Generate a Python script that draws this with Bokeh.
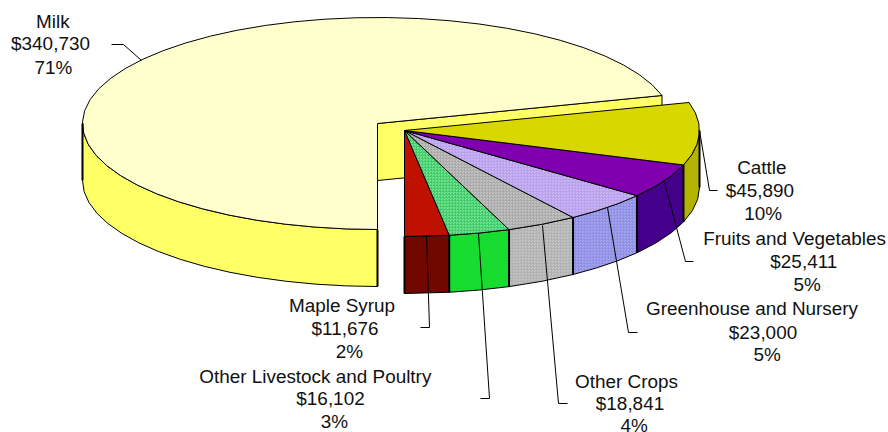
import math
from bokeh.plotting import figure
from bokeh.models import Range1d
from bokeh.embed import file_html
from bokeh.resources import INLINE
from bokeh.core.properties import value

categories = ["Milk", "Cattle", "Fruits and Vegetables", "Greenhouse and Nursery",
              "Other Crops", "Other Livestock and Poultry", "Maple Syrup"]
amounts = [340730, 45890, 25411, 23000, 18841, 16102, 11676]
amount_labels = ["$340,730", "$45,890", "$25,411", "$23,000", "$18,841", "$16,102", "$11,676"]
percent_labels = ["71%", "10%", "5%", "5%", "4%", "3%", "2%"]
top_colors = ["#FFFFCC", "#D8D800", "#8000B0", "#CDB9F8", "#C8C8C8", "#7CE89C", "#C01000"]
side_colors = ["#FFFF66", "#B4B400", "#44008A", "#A8A8F2", "#C8C8C8", "#18DC30", "#700800"]
hatch_colors = [None, None, None, "#B49CE8", "#A4A4A4", "#38C460", None]
hatch_side = [None, None, None, "#8C8CE0", "#ACACAC", None, None]

W, H = 888, 432
CX, CY, RX, RY, DEPTH = 377.0, 123.0, 295.0, 106.0, 57.0
DX, DY = 27.0, 7.0   # explosion of the other slices

p = figure(width=W, height=H, output_backend="svg", toolbar_location=None,
           x_range=Range1d(0, W), y_range=Range1d(H, 0), min_border=0)
p.axis.visible = False
p.grid.visible = False
p.outline_line_color = None
p.background_fill_color = "white"


def rim(cx, cy, a0, a1, step=6.0):
    n = max(1, int(abs(a1 - a0) / step + 0.5))
    out = []
    for i in range(n + 1):
        a = math.radians(a0 + (a1 - a0) * i / n)
        out.append((cx + RX * math.cos(a), cy - RY * math.sin(a)))
    return out


def poly(pts, fill, hatch=None, lw=1.0):
    kw = {}
    if hatch:
        kw = dict(hatch_pattern="criss_cross", hatch_color=hatch, hatch_scale=3.0, hatch_weight=0.6)
    p.patch([q[0] for q in pts], [q[1] for q in pts], fill_color=fill,
            line_color="black", line_width=lw, line_join="round", **kw)


def side(cx, cy, a0, a1, fill, hatch=None):
    top = rim(cx, cy, a0, a1)
    poly(top + [(x, y + DEPTH) for x, y in reversed(top)], fill, hatch)


total = sum(amounts)
sweeps = [v / total * 360.0 for v in amounts]
milk_end = 270.0
milk_start = milk_end - sweeps[0]   # counter-clockwise from here to straight down

# Milk slice: side wall, cut face, top
side(CX, CY, 180.0, milk_end, side_colors[0])
rx0, ry0 = rim(CX, CY, milk_start, milk_start)[0]
poly([(CX, CY), (rx0, ry0), (rx0, ry0 + DEPTH), (CX, CY + DEPTH)], side_colors[0])
poly(rim(CX, CY, milk_start, milk_end) + [(CX, CY)], top_colors[0])
p.line([CX - RX] * 2, [CY, CY + DEPTH], line_color="black", line_width=2)
p.line([CX] * 2, [CY + RY, CY + RY + DEPTH], line_color="black", line_width=2)

# Exploded slices, clockwise-from-straight-down order, drawn from the back to the front
ox, oy = CX + DX, CY + DY
edges = [-90.0]
for s in reversed(sweeps[1:]):
    edges.append(edges[-1] + s)
spans = list(zip(edges[:-1], edges[1:]))          # Maple first ... Cattle last
idx = list(range(len(categories) - 1, 0, -1))

for i, (a0, a1) in zip(idx, spans):
    hi = min(a1, 0.0)
    if a0 < hi:
        side(ox, oy, a0, hi, side_colors[i], hatch_side[i])
for i, (a0, a1) in zip(idx, spans):
    poly([(ox, oy)] + rim(ox, oy, a0, a1), top_colors[i], hatch_colors[i])
    s0 = rim(ox, oy, a0, a0)[0]
    p.line([s0[0]] * 2, [s0[1], s0[1] + DEPTH], line_color="black", line_width=2)
p.line([ox + RX] * 2, [oy, oy + DEPTH], line_color="black", line_width=2)

# Leader lines
leaders_x = [[111, 123, 141], [699, 709, 717], [664, 685, 693], [607, 628, 637],
             [542, 558, 567], [478, 489, 480], [426, 429, 420]]
leaders_y = [[44, 44, 60], [130, 190, 190], [182, 261, 261], [207, 332, 332],
             [225, 403, 403], [233, 398, 398], [235, 327, 327]]
p.multi_line(leaders_x, leaders_y, line_color="black", line_width=1)

# Labels: in the source each of the three lines sits at its own x
name_x = [52.3, 761.3, 794, 751.5, 626, 314.8, 341.5]
amount_x = [50, 759.3, 803.3, 762.5, 629.5, 330, 344.5]
percent_x = [53, 762.7, 806.7, 766.7, 633.7, 334, 349]
name_y = [20.7, 166.7, 237.7, 308.3, 380.5, 376, 305]
amount_y = [43.3, 190, 260.7, 331.7, 402.7, 397.7, 327.7]
percent_y = [66.7, 212.7, 284.3, 354, 425, 420.7, 350.7]
for name, amt, pct, nx, ax, qx, ny, ay, qy in zip(categories, amount_labels, percent_labels,
                                                  name_x, amount_x, percent_x,
                                                  name_y, amount_y, percent_y):
    p.text([nx, ax, qx], [ny, ay, qy], text=[name, amt, pct],
           text_font=value("Liberation Sans"), text_font_size="18.9px", text_color="#111111",
           text_align="center", text_baseline="middle")

open("out.html", "w").write(file_html(p, INLINE))
